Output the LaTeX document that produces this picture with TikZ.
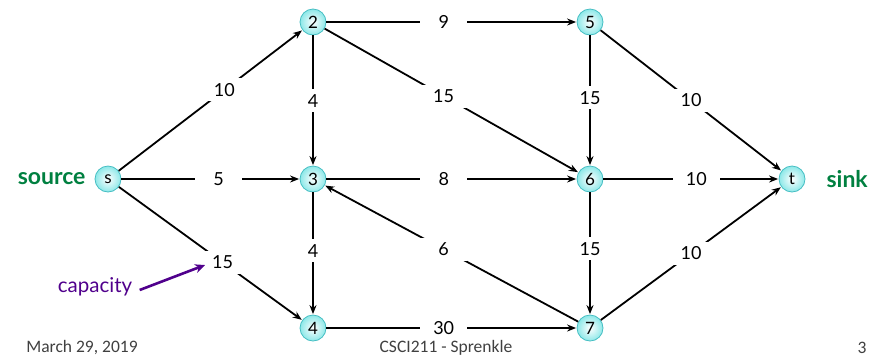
\documentclass[tikz,border=0pt]{standalone}
\usepackage{fontspec}
\setmainfont{Lato}
\newfontfamily\footfont{Carlito}
\usetikzlibrary{arrows.meta}
\definecolor{nodeedge}{RGB}{70,190,195}
\definecolor{nodefill}{RGB}{140,232,232}
\definecolor{termgreen}{RGB}{0,128,64}
\definecolor{cappurple}{RGB}{80,0,140}
\begin{document}
\begin{tikzpicture}[x=1pt,y=-1pt,
  vtx/.style={circle,minimum size=26pt,inner sep=0pt,draw=nodeedge,line width=0.8pt,
    inner color=white,outer color=nodefill,font=\fontsize{17}{17}\selectfont},
  flow/.style={line width=1.8pt,-{Stealth[length=9pt,width=7pt]},shorten >=0.5pt},
  capbox/.style={fill=white,inner sep=0pt,minimum width=47pt,minimum height=23pt,
    font=\fontsize{18}{18}\selectfont},
  term/.style={text=termgreen,font=\fontsize{23}{23}\selectfont\bfseries},
  foot/.style={font=\footfont\fontsize{17.5}{17.5}\selectfont,text=black!75}]
\useasboundingbox (0,0) rectangle (872,360);

% vertices
\node[vtx] (s) at (108,179) {s};
\node[vtx] (n2) at (313,22) {2};
\node[vtx] (n3) at (313,179) {3};
\node[vtx] (n4) at (313,328) {4};
\node[vtx] (n5) at (590,22) {5};
\node[vtx] (n6) at (590,179) {6};
\node[vtx] (n7) at (590,328) {7};
\node[vtx] (t) at (792,179) {t};

% edges with capacities
\draw[flow] (s) -- node[capbox,pos=0.575] {10} (n2);
\draw[flow] (s) -- node[capbox,pos=0.546] {5} (n3);
\draw[flow] (s) -- node[capbox,pos=0.566] (c15) {15} (n4);
\draw[flow] (n2) -- node[capbox,pos=0.469] {9} (n5);
\draw[flow] (n2) -- node[capbox,pos=0.503] {4} (n3);
\draw[flow] (n2) -- node[capbox,pos=0.469] {15} (n6);
\draw[flow] (n3) -- node[capbox,pos=0.469] {8} (n6);
\draw[flow] (n3) -- node[capbox,pos=0.477] {4} (n4);
\draw[flow] (n7) -- node[capbox,pos=0.531] {6} (n3);
\draw[flow] (n4) -- node[capbox,pos=0.469] {30} (n7);
\draw[flow] (n5) -- node[capbox,pos=0.478] {15} (n6);
\draw[flow] (n6) -- node[capbox,pos=0.463] {15} (n7);
\draw[flow] (n5) -- node[capbox,pos=0.5] {10} (t);
\draw[flow] (n6) -- node[capbox,pos=0.53] {10} (t);
\draw[flow] (n7) -- node[capbox,pos=0.5] {10} (t);

% terminal labels
\node[term,anchor=east] (srclbl) at (89,179) {source};
\node[term,anchor=west] (snklbl) at (823,179) {sink};

% capacity callout
\node[text=cappurple,font=\fontsize{20.5}{20.5}\selectfont] (caplbl) at (95,287) {capacity};
\coordinate (captip) at (205,265);
\draw[cappurple,line width=2.6pt,-{Stealth[length=10pt,width=9pt]}] (caplbl.east) ++(4,3) -- (captip);

% footer
\node[foot] (date) at (82,348) {March 29, 2019};
\node[foot] (course) at (446,348) {CSCI211 - Sprenkle};
\node[foot] (page) at (862,348) {3};
\end{tikzpicture}
\end{document}
